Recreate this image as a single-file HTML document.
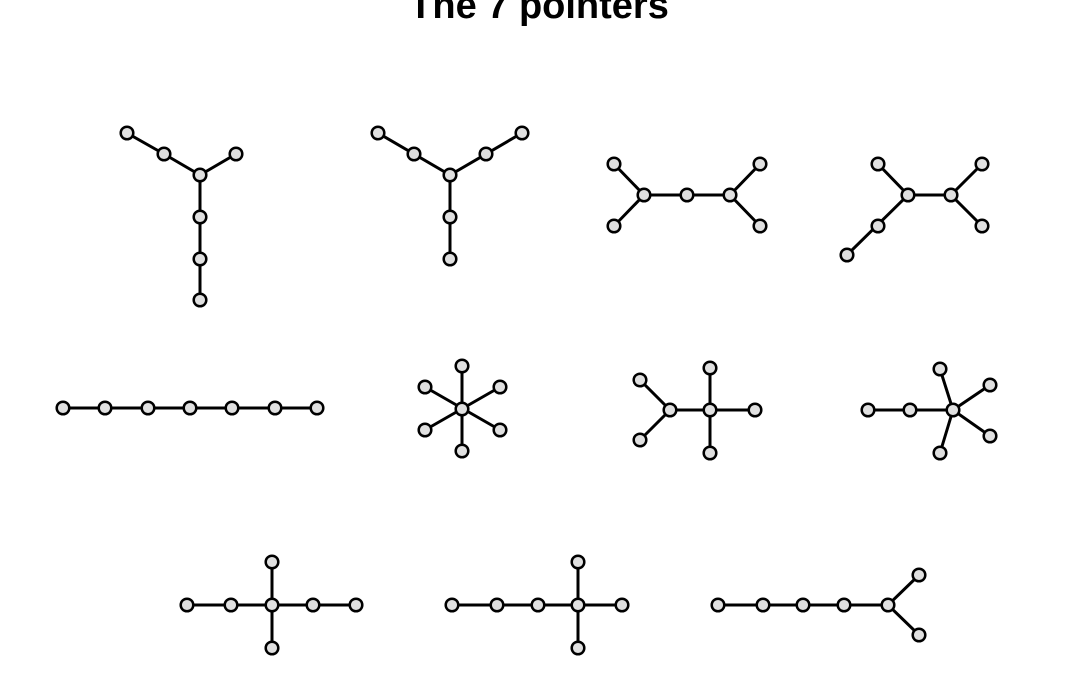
<!DOCTYPE html>
<html><head><style>body{margin:0;background:#fff}</style></head><body>
<svg width="1080" height="675" xmlns="http://www.w3.org/2000/svg">
<text x="539" y="18" text-anchor="middle" font-family="Liberation Sans, sans-serif" font-weight="bold" font-size="38">The 7 pointers</text>
<g stroke="#000" stroke-width="3" fill="none">
<polyline points="127,133 164,154 200,175 236,154"/><polyline points="200,175 200,300"/>
<polyline points="378,133 450,175 522,133"/><polyline points="450,175 450,259"/>
<polyline points="614,164 644,195 614,226"/><polyline points="644,195 730,195"/><polyline points="760,164 730,195 760,226"/>
<polyline points="847,255 908,195 878,164"/><polyline points="908,195 951,195"/><polyline points="982,164 951,195 982,226"/>
<polyline points="63,408 317,408"/>
<path d="M462,366L462,451M500,387L425,430M500,430L425,387"/>
<polyline points="640,380 670,410 640,440"/><path d="M670,410L755,410M710,368L710,453"/>
<path d="M868,410L953,410M940,369L953,410L990,385M990,436L953,410L940,453"/>
<path d="M187,605L356,605M272,562L272,648"/>
<path d="M452,605L622,605M578,562L578,648"/>
<path d="M718,605L888,605M919,575L888,605L919,635"/>
</g>
<g stroke="#000" stroke-width="2.5" fill="#e0e0e0">
<circle cx="127" cy="133" r="6.3"/><circle cx="164" cy="154" r="6.3"/><circle cx="200" cy="175" r="6.3"/><circle cx="236" cy="154" r="6.3"/><circle cx="200" cy="217" r="6.3"/><circle cx="200" cy="259" r="6.3"/><circle cx="200" cy="300" r="6.3"/>
<circle cx="378" cy="133" r="6.3"/><circle cx="414" cy="154" r="6.3"/><circle cx="450" cy="175" r="6.3"/><circle cx="486" cy="154" r="6.3"/><circle cx="522" cy="133" r="6.3"/><circle cx="450" cy="217" r="6.3"/><circle cx="450" cy="259" r="6.3"/>
<circle cx="614" cy="164" r="6.3"/><circle cx="644" cy="195" r="6.3"/><circle cx="614" cy="226" r="6.3"/><circle cx="687" cy="195" r="6.3"/><circle cx="730" cy="195" r="6.3"/><circle cx="760" cy="164" r="6.3"/><circle cx="760" cy="226" r="6.3"/>
<circle cx="878" cy="164" r="6.3"/><circle cx="908" cy="195" r="6.3"/><circle cx="878" cy="226" r="6.3"/><circle cx="847" cy="255" r="6.3"/><circle cx="951" cy="195" r="6.3"/><circle cx="982" cy="164" r="6.3"/><circle cx="982" cy="226" r="6.3"/>
<circle cx="63" cy="408" r="6.3"/><circle cx="105" cy="408" r="6.3"/><circle cx="148" cy="408" r="6.3"/><circle cx="190" cy="408" r="6.3"/><circle cx="232" cy="408" r="6.3"/><circle cx="275" cy="408" r="6.3"/><circle cx="317" cy="408" r="6.3"/>
<circle cx="462" cy="409" r="6.3"/><circle cx="462" cy="366" r="6.3"/><circle cx="500" cy="387" r="6.3"/><circle cx="500" cy="430" r="6.3"/><circle cx="462" cy="451" r="6.3"/><circle cx="425" cy="430" r="6.3"/><circle cx="425" cy="387" r="6.3"/>
<circle cx="640" cy="380" r="6.3"/><circle cx="670" cy="410" r="6.3"/><circle cx="640" cy="440" r="6.3"/><circle cx="710" cy="410" r="6.3"/><circle cx="710" cy="368" r="6.3"/><circle cx="710" cy="453" r="6.3"/><circle cx="755" cy="410" r="6.3"/>
<circle cx="868" cy="410" r="6.3"/><circle cx="910" cy="410" r="6.3"/><circle cx="953" cy="410" r="6.3"/><circle cx="940" cy="369" r="6.3"/><circle cx="990" cy="385" r="6.3"/><circle cx="990" cy="436" r="6.3"/><circle cx="940" cy="453" r="6.3"/>
<circle cx="187" cy="605" r="6.3"/><circle cx="231" cy="605" r="6.3"/><circle cx="272" cy="605" r="6.3"/><circle cx="313" cy="605" r="6.3"/><circle cx="356" cy="605" r="6.3"/><circle cx="272" cy="562" r="6.3"/><circle cx="272" cy="648" r="6.3"/>
<circle cx="452" cy="605" r="6.3"/><circle cx="497" cy="605" r="6.3"/><circle cx="538" cy="605" r="6.3"/><circle cx="578" cy="605" r="6.3"/><circle cx="622" cy="605" r="6.3"/><circle cx="578" cy="562" r="6.3"/><circle cx="578" cy="648" r="6.3"/>
<circle cx="718" cy="605" r="6.3"/><circle cx="763" cy="605" r="6.3"/><circle cx="803" cy="605" r="6.3"/><circle cx="844" cy="605" r="6.3"/><circle cx="888" cy="605" r="6.3"/><circle cx="919" cy="575" r="6.3"/><circle cx="919" cy="635" r="6.3"/>
</g>
</svg>
</body></html>
